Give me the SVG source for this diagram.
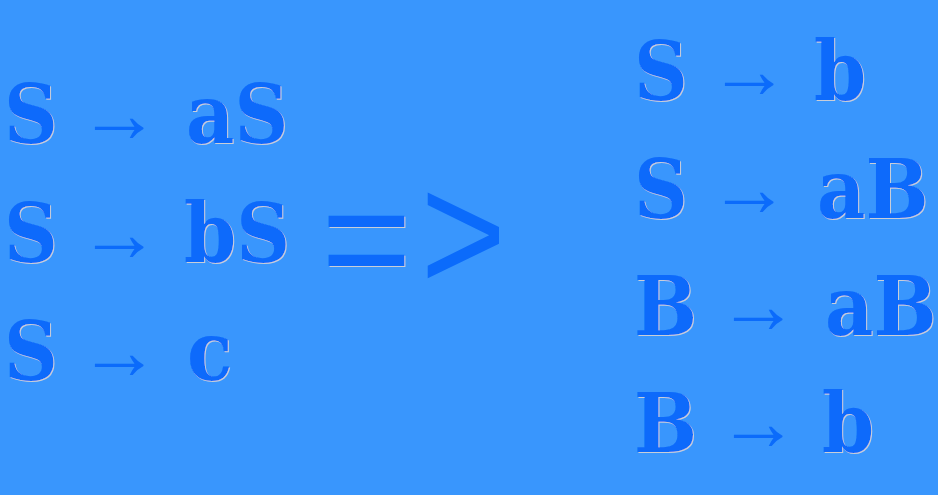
<svg xmlns="http://www.w3.org/2000/svg" width="938" height="495" viewBox="0 0 938 495">
<defs>
<filter id="sh" x="-5%" y="-5%" width="115%" height="115%">
<feOffset in="SourceAlpha" dx="1" dy="1" result="o"/>
<feFlood flood-color="#c9ced8"/>
<feComposite in2="o" operator="in" result="s"/>
<feMerge><feMergeNode in="s"/><feMergeNode in="SourceGraphic"/></feMerge>
</filter>
<style>
.t{font-family:"DejaVu Serif Condensed","DejaVu Serif",serif;font-stretch:condensed;font-weight:bold;font-size:83px;fill:#0b6bfb;filter:url(#sh)}
.ar{font-family:"Liberation Sans",sans-serif;font-size:82px;fill:#0b6bfb}
.big{font-family:"Liberation Sans",sans-serif;font-size:156px;fill:#0b6bfb}
</style>
</defs>
<rect width="938" height="495" fill="#3996fd"/>
<g id="left">
<g id="r1"><text class="t" x="4" y="143">S</text><text class="ar" x="78" y="142">→</text><text class="t" x="186" y="143">aS</text></g>
<g id="r2"><text class="t" x="4" y="262">S</text><text class="ar" x="78" y="261">→</text><text class="t" x="184" y="262">bS</text></g>
<g id="r3"><text class="t" x="4" y="380">S</text><text class="ar" x="78" y="379">→</text><text class="t" x="187" y="380">c</text></g>
</g>
<g id="implies"><text class="big" x="321" y="292" filter="url(#sh)">=</text><text class="big" transform="translate(420.4,291.4) scale(0.94,1.08)">&gt;</text></g>
<g id="right">
<g id="q1"><text class="t" x="634" y="100">S</text><text class="ar" x="708" y="98">→</text><text class="t" x="814" y="100">b</text></g>
<g id="q2"><text class="t" x="634" y="218">S</text><text class="ar" x="708" y="216">→</text><text class="t" x="817" y="218">aB</text></g>
<g id="q3"><text class="t" x="634" y="335">B</text><text class="ar" x="717" y="333">→</text><text class="t" x="825" y="335">aB</text></g>
<g id="q4"><text class="t" x="634" y="452">B</text><text class="ar" x="717" y="450">→</text><text class="t" x="822" y="452">b</text></g>
</g>
</svg>
